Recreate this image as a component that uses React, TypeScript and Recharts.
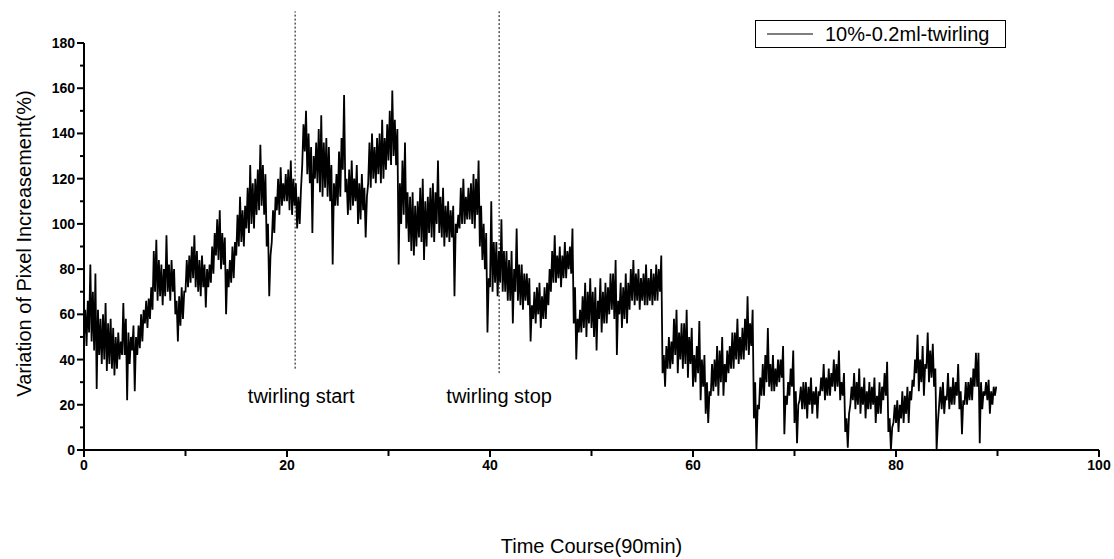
import React from 'react';
import { LineChart, Line, XAxis, YAxis, ReferenceLine, ReferenceDot, Legend } from 'recharts';

const seriesName = '10%-0.2ml-twirling';

// readings every eighth of a minute, one row per minute
const sampleStep = 0.125;
const pixelIncrease = [
  50, 62, 46, 66, 52, 82, 48, 70, // 0
  44, 78, 27, 62, 42, 58, 38, 60, // 1
  40, 65, 35, 56, 38, 58, 36, 54, // 2
  33, 50, 36, 52, 40, 48, 42, 65, // 3
  42, 58, 22, 52, 38, 50, 44, 55, // 4
  26, 50, 42, 55, 45, 60, 48, 62, // 5
  56, 66, 54, 67, 58, 72, 62, 88, // 6
  70, 93, 66, 84, 68, 82, 64, 80, // 7
  68, 95, 70, 82, 66, 84, 70, 80, // 8
  60, 66, 48, 68, 55, 72, 58, 70, // 9
  70, 84, 72, 86, 74, 90, 76, 95, // 10
  72, 88, 70, 84, 68, 86, 72, 82, // 11
  63, 80, 72, 82, 74, 90, 78, 96, // 12
  86, 102, 84, 106, 80, 96, 82, 94, // 13
  60, 80, 72, 84, 74, 90, 76, 92, // 14
  86, 104, 90, 112, 92, 106, 90, 108, // 15
  98, 116, 96, 126, 100, 118, 98, 120, // 16
  104, 124, 106, 135, 108, 126, 104, 122, // 17
  90, 100, 68, 86, 92, 106, 96, 112, // 18
  106, 120, 104, 125, 108, 118, 110, 122, // 19
  110, 124, 106, 128, 104, 120, 108, 118, // 20
  98, 112, 100, 115, 126, 144, 132, 150, // 21
  122, 140, 118, 134, 96, 130, 120, 136, // 22
  118, 142, 114, 148, 112, 136, 116, 138, // 23
  112, 134, 110, 126, 82, 118, 108, 122, // 24
  108, 132, 112, 138, 124, 157, 114, 120, // 25
  104, 124, 106, 128, 108, 120, 110, 126, // 26
  100, 118, 102, 122, 106, 116, 94, 112, // 27
  118, 136, 116, 140, 120, 134, 118, 138, // 28
  122, 140, 118, 146, 120, 138, 124, 144, // 29
  128, 150, 126, 159, 130, 146, 126, 142, // 30
  82, 118, 100, 128, 104, 136, 98, 114, // 31
  92, 112, 88, 114, 86, 108, 90, 110, // 32
  94, 116, 92, 120, 84, 110, 90, 112, // 33
  96, 116, 94, 118, 92, 114, 100, 128, // 34
  96, 112, 94, 116, 90, 108, 94, 110, // 35
  92, 106, 94, 108, 68, 100, 96, 104, // 36
  98, 116, 100, 120, 100, 112, 102, 116, // 37
  102, 118, 100, 122, 98, 120, 104, 128, // 38
  90, 108, 84, 100, 80, 96, 52, 76, // 39
  72, 110, 70, 92, 74, 92, 68, 88, // 40
  74, 102, 70, 88, 70, 88, 66, 84, // 41
  66, 88, 56, 80, 70, 98, 66, 82, // 42
  64, 82, 62, 78, 66, 78, 64, 76, // 43
  48, 64, 58, 70, 56, 72, 60, 74, // 44
  54, 68, 58, 72, 58, 74, 64, 80, // 45
  70, 88, 74, 95, 74, 86, 76, 90, // 46
  72, 86, 76, 92, 76, 88, 80, 90, // 47
  78, 98, 56, 72, 40, 58, 52, 62, // 48
  52, 68, 54, 74, 50, 70, 56, 76, // 49
  54, 70, 50, 72, 44, 66, 58, 76, // 50
  52, 70, 56, 74, 56, 72, 60, 78, // 51
  62, 78, 58, 84, 42, 66, 60, 74, // 52
  54, 72, 58, 78, 56, 74, 62, 80, // 53
  66, 84, 64, 78, 66, 80, 62, 76, // 54
  66, 78, 64, 82, 64, 76, 66, 80, // 55
  64, 78, 66, 82, 66, 80, 70, 86, // 56
  34, 42, 28, 46, 36, 50, 36, 48, // 57
  38, 58, 42, 62, 34, 52, 40, 56, // 58
  36, 56, 38, 62, 32, 50, 38, 54, // 59
  28, 42, 30, 46, 34, 57, 22, 40, // 60
  28, 42, 16, 30, 12, 26, 24, 38, // 61
  26, 40, 28, 46, 24, 44, 30, 50, // 62
  24, 38, 30, 44, 34, 46, 36, 52, // 63
  36, 52, 40, 58, 38, 50, 40, 54, // 64
  40, 58, 44, 68, 42, 56, 46, 62, // 65
  14, 30, 0, 20, 18, 32, 24, 38, // 66
  24, 42, 30, 54, 28, 38, 26, 42, // 67
  26, 36, 28, 40, 30, 40, 32, 46, // 68
  7, 24, 20, 30, 24, 36, 28, 44, // 69
  12, 26, 3, 20, 22, 28, 18, 30, // 70
  18, 30, 14, 28, 20, 32, 16, 26, // 71
  20, 28, 14, 26, 24, 32, 26, 38, // 72
  22, 32, 24, 36, 24, 34, 28, 40, // 73
  26, 38, 28, 44, 22, 30, 24, 34, // 74
  8, 14, 1, 16, 20, 28, 22, 34, // 75
  18, 30, 20, 36, 16, 28, 20, 32, // 76
  14, 26, 18, 30, 18, 28, 20, 32, // 77
  12, 24, 16, 30, 16, 28, 22, 34, // 78
  24, 39, 8, 14, 0, 10, 12, 20, // 79
  12, 22, 8, 20, 14, 26, 12, 24, // 80
  16, 28, 12, 26, 22, 31, 28, 40, // 81
  34, 51, 26, 40, 30, 46, 24, 38, // 82
  36, 52, 30, 44, 32, 47, 28, 36, // 83
  0, 12, 20, 28, 18, 30, 16, 24, // 84
  22, 34, 18, 28, 20, 32, 20, 30, // 85
  24, 38, 18, 26, 7, 22, 20, 30, // 86
  20, 30, 22, 32, 22, 36, 28, 43, // 87
  28, 43, 3, 30, 18, 26, 24, 30, // 88
  22, 31, 16, 26, 20, 28, 24, 28, // 89
];

const xTicks = [0, 10, 20, 30, 40, 50, 60, 70, 80, 90, 100];
const xLabelled = [0, 20, 40, 60, 80, 100];
const yTicks = [0, 10, 20, 30, 40, 50, 60, 70, 80, 90, 100, 110, 120, 130, 140, 150, 160, 170, 180];
const yLabelled = [0, 20, 40, 60, 80, 100, 120, 140, 160, 180];

const markerTimes = [20.8, 40.9];
const markerLabels = ['twirling start', 'twirling stop'];
const markerLabelTimes = [21.4, 40.9];

const data = pixelIncrease.map((v, i) => ({ time: i * sampleStep, value: v }));

const font = '"Liberation Sans", Arial, sans-serif';

const XTick = ({ x, y, payload }: any) => {
  const major = xLabelled.includes(payload.value);
  return (
    <g>
      <line x1={x} y1={y} x2={x} y2={y + (major ? 7 : 6)} stroke="#000" strokeWidth={2} />
      {major && (
        <text x={x} y={y + 20} textAnchor="middle" fontSize={14} fontWeight="bold" fontFamily={font} fill="#000">
          {payload.value}
        </text>
      )}
    </g>
  );
};

const YTick = ({ x, y, payload }: any) => {
  const major = yLabelled.includes(payload.value);
  return (
    <g>
      <line x1={x} y1={y} x2={x - (major ? 7 : 4)} y2={y} stroke="#000" strokeWidth={2} />
      {major && (
        <text x={x - 9} y={y + 5} textAnchor="end" fontSize={14} fontWeight="bold" fontFamily={font} fill="#000">
          {payload.value}
        </text>
      )}
    </g>
  );
};

const LegendBox = () => (
  <div
    style={{
      border: '1px solid #000',
      height: 28,
      display: 'flex',
      alignItems: 'center',
      boxSizing: 'border-box',
      fontFamily: font,
      fontSize: 20,
      color: '#000',
    }}
  >
    <svg width={58} height={10} style={{ marginLeft: 11 }}>
      <line x1={0} y1={5} x2={46} y2={5} stroke="#000" strokeWidth={1.2} />
    </svg>
    <span>{seriesName}</span>
  </div>
);

export default function App() {
  return (
    <div style={{ position: 'absolute', left: 0, top: 0, background: '#fff' }}>
      <LineChart width={1114} height={559} data={data} margin={{ top: 43, right: 15, bottom: 79, left: 0 }}>
        <XAxis
          dataKey="time"
          type="number"
          domain={[0, 100]}
          ticks={xTicks}
          interval={0}
          height={30}
          axisLine={{ stroke: '#000', strokeWidth: 2 }}
          tickLine={false}
          tickSize={0}
          tickMargin={0}
          tick={<XTick />}
          label={{
            content: ({ viewBox }: any) => (
              <text
                x={viewBox.x + viewBox.width / 2}
                y={viewBox.y + 103}
                textAnchor="middle"
                fontSize={20}
                fontFamily={font}
                fill="#000"
              >
                Time Course(90min)
              </text>
            ),
          }}
        />
        <YAxis
          type="number"
          domain={[0, 180]}
          ticks={yTicks}
          interval={0}
          width={84}
          axisLine={{ stroke: '#000', strokeWidth: 2 }}
          tickLine={false}
          tickSize={0}
          tickMargin={0}
          tick={<YTick />}
          label={{
            content: ({ viewBox }: any) => {
              const cx = viewBox.x + 24;
              const cy = viewBox.y + viewBox.height / 2 - 3;
              return (
                <text
                  x={cx}
                  y={cy}
                  transform={`rotate(-90, ${cx}, ${cy})`}
                  textAnchor="middle"
                  dominantBaseline="central"
                  fontSize={20}
                  fontFamily={font}
                  fill="#000"
                >
                  Variation of Pixel Increasement(%)
                </text>
              );
            },
          }}
        />
        <Legend
          layout="horizontal"
          verticalAlign="middle"
          align="center"
          wrapperStyle={{ left: 755, top: 20, width: 251 }}
          content={<LegendBox />}
        />
        {markerTimes.map((t, i) => (
          <ReferenceLine
            key={`m${i}`}
            segment={[
              { x: t, y: i === 0 ? 36 : 34 },
              { x: t, y: 194 },
            ]}
            ifOverflow="visible"
            stroke="#000"
            strokeWidth={1}
            strokeDasharray="2 2"
          />
        ))}
        {markerLabels.map((lbl, i) => (
          <ReferenceDot
            key={`l${i}`}
            x={markerLabelTimes[i]}
            y={24}
            r={0}
            ifOverflow="visible"
            shape={(p: any) => (
              <text
                x={p.cx}
                y={p.cy}
                textAnchor="middle"
                dominantBaseline="central"
                fontSize={20}
                fontFamily={font}
                fill="#000"
              >
                {lbl}
              </text>
            )}
          />
        ))}
        <Line
          type="linear"
          dataKey="value"
          name={seriesName}
          stroke="#000"
          strokeWidth={1.8}
          dot={false}
          activeDot={false}
          isAnimationActive={false}
        />
      </LineChart>
    </div>
  );
}
